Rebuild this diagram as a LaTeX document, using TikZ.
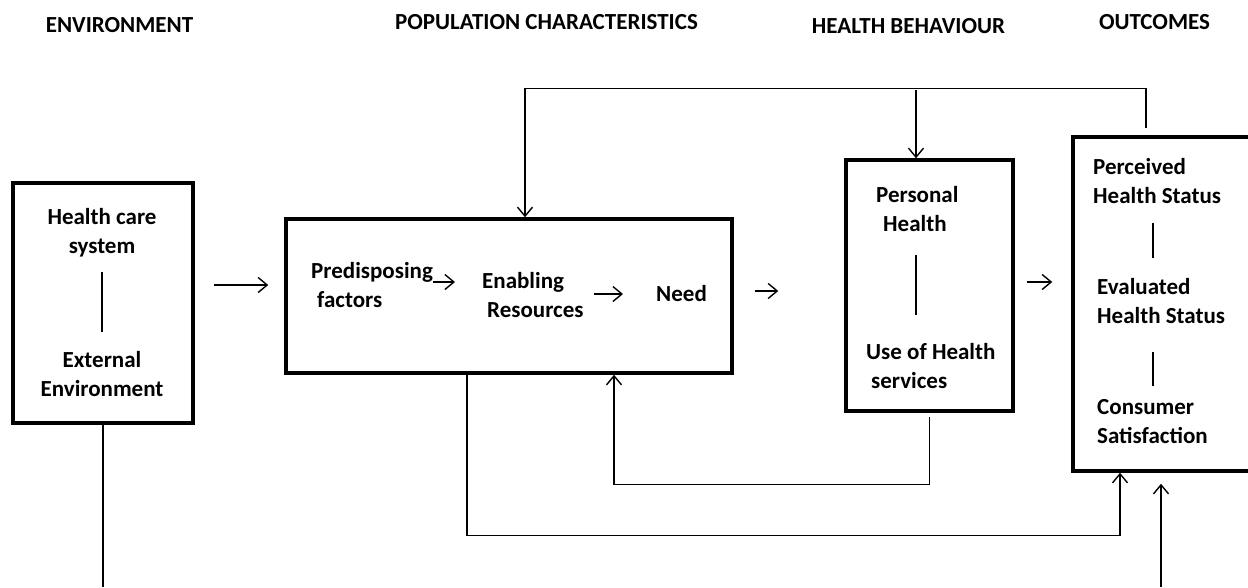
\documentclass[tikz,border=0pt]{standalone}
\usepackage{fontspec}
\setmainfont{Carlito}
\usetikzlibrary{arrows.meta,calc}
\begin{document}
\begin{tikzpicture}[x=1pt,y=-1pt,
  every node/.style={font=\fontsize{23}{29}\selectfont\bfseries, inner sep=0pt},
  box/.style={draw, line width=3.5pt, rectangle},
  txt/.style={align=left, anchor=west},
  ctxt/.style={align=center},
  conn/.style={line width=1.4pt},
  arr/.style={conn, -{Straight Barb[length=9pt,width=15pt,line width=1.4pt]}},
  sep/.style={line width=1.4pt}]
\useasboundingbox (0,0) rectangle (1248,587);
\clip (0,0) rectangle (1248,587);

% column headings
\node (hEnv) at (119.5,25) {ENVIRONMENT};
\node (hPop) at (546.5,22) {POPULATION CHARACTERISTICS};
\node (hBeh) at (908.5,26) {HEALTH BEHAVIOUR};
\node (hOut) at (1154.5,22) {OUTCOMES};

% boxes
\node[box, minimum width=180pt, minimum height=240pt] (env) at (103,303) {};
\node[box, minimum width=446pt, minimum height=154pt] (pop) at (509,296) {};
\node[box, minimum width=167pt, minimum height=251pt] (beh) at (929.5,285.5) {};
\node[box, minimum width=187pt, minimum height=334pt] (out) at (1166.5,304) {};

% environment
\node[ctxt] (hcs) at (102,232.5) {Health care\\system};
\node[ctxt] (ext) at (102,374.5) {External\\Environment};
\draw[sep] (102,272) -- (102,332);

% population characteristics
\node[txt] (pred) at (311,285.5) {Predisposing\\\hspace*{6pt}factors};
\node[txt] (enab) at (482,295.5) {Enabling\\\hspace*{5pt}Resources};
\node[txt] (need) at (656,294) {Need};
\draw[arr, shorten <=0pt, shorten >=27pt] (pred.east |- 0,282) -- (enab.west |- 0,282);
\draw[arr, shorten <=10pt, shorten >=33pt] (enab.east |- 0,294) -- (need.west |- 0,294);

% health behaviour
\node[txt] (pers) at (876,209.5) {Personal\\\hspace*{7pt}Health};
\node[txt] (use) at (866,366) {Use of Health\\\hspace*{5pt}services};
\draw[sep] (916,255) -- (916,315);

% outcomes
\node[txt] (perc) at (1093,181.5) {Perceived\\Health Status};
\node[txt] (eval) at (1097,301) {Evaluated\\Health Status};
\node[txt] (cons) at (1097,422) {Consumer\\Satisfaction};
\draw[sep] (1153,223) -- (1153,258);
\draw[sep] (1153,352) -- (1153,386);

% flows between columns
\draw[arr, shorten <=19pt, shorten >=16pt] (env.east |- 0,285) -- (pop.west |- 0,285);
\draw[arr, shorten <=21pt, shorten >=66pt] (pop.east |- 0,291) -- (beh.west |- 0,291);
\draw[arr, shorten <=12pt, shorten >=19pt] (beh.east |- 0,282) -- (out.west |- 0,282);

% feedback from outcomes
\draw[arr] ([xshift=-20.5pt,yshift=7pt]out.north) -- ++(0,-40) -| ([xshift=16pt]pop.north);
\draw[arr] ([xshift=-13.5pt]beh.north |- 0,90) -- ([xshift=-13.5pt]beh.north);

% feedback from health behaviour
\draw[arr, shorten <=4pt] (beh.south) -- ++(0,72) -| ([xshift=105pt]pop.south);

% population to outcomes
\draw[arr] ([xshift=-42pt]pop.south) -- ++(0,161) -| ([xshift=-46.5pt]out.south);

% environment and outside input
\draw[conn] (env.south) -- (env.south |- 0,587);
\draw[arr, shorten >=11pt] ([xshift=-5.5pt]out.south |- 0,587) -- ([xshift=-5.5pt]out.south);
\end{tikzpicture}
\end{document}
